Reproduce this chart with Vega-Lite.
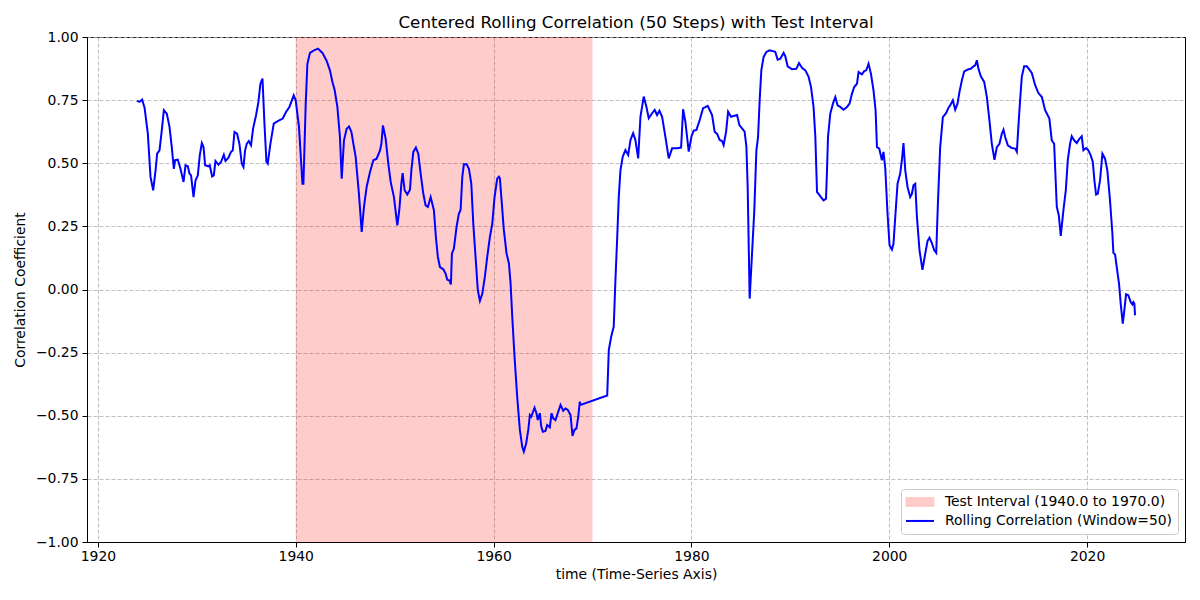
{
  "$schema": "https://vega.github.io/schema/vega-lite/v6.json",
  "width": 1098,
  "height": 505,
  "autosize": {"type": "none"},
  "padding": {"left": 87, "top": 37, "right": 15, "bottom": 58},
  "background": "white",
  "title": {"text": "Centered Rolling Correlation (50 Steps) with Test Interval", "font": "DejaVu Sans", "fontSize": 16.7, "fontWeight": "normal", "color": "black", "anchor": "middle", "offset": -2},
  "config": {
    "view": {"stroke": "black", "strokeWidth": 1},
    "axis": {"labelFont": "DejaVu Sans", "titleFont": "DejaVu Sans", "labelFontSize": 13.9, "titleFontSize": 13.9, "titleFontWeight": "normal", "labelColor": "black", "titleColor": "black", "domainColor": "black", "tickColor": "black", "tickSize": 5, "labelPadding": 4, "gridColor": "#b0b0b0", "gridDash": [4, 2], "gridWidth": 0.8, "labelFlush": false, "labelOverlap": false}
  },
  "datasets": {
    "interval": [{"start": 1940, "end": 1970, "series": "Test Interval (1940.0 to 1970.0)"}],
    "corr": [
{"year":1923.94,"corr":0.747},{"year":1924.21,"corr":0.743},{"year":1924.47,"corr":0.752},{"year":1924.72,"corr":0.720},{"year":1925.05,"corr":0.617},{"year":1925.32,"corr":0.446},{"year":1925.59,"corr":0.393},{"year":1925.83,"corr":0.472},{"year":1925.99,"corr":0.538},{"year":1926.23,"corr":0.551},{"year":1926.46,"corr":0.630},{"year":1926.67,"corr":0.710},{"year":1926.97,"corr":0.696},{"year":1927.24,"corr":0.644},{"year":1927.47,"corr":0.564},{"year":1927.68,"corr":0.478},{"year":1927.81,"corr":0.512},{"year":1928.08,"corr":0.514},{"year":1928.35,"corr":0.478},{"year":1928.66,"corr":0.426},{"year":1928.86,"corr":0.492},{"year":1929.09,"corr":0.488},{"year":1929.26,"corr":0.459},{"year":1929.42,"corr":0.452},{"year":1929.67,"corr":0.366},{"year":1929.87,"corr":0.432},{"year":1930.10,"corr":0.452},{"year":1930.30,"corr":0.531},{"year":1930.51,"corr":0.580},{"year":1930.68,"corr":0.564},{"year":1930.84,"corr":0.492},{"year":1931.18,"corr":0.488},{"year":1931.31,"corr":0.492},{"year":1931.55,"corr":0.448},{"year":1931.72,"corr":0.452},{"year":1931.89,"corr":0.509},{"year":1932.19,"corr":0.494},{"year":1932.45,"corr":0.505},{"year":1932.73,"corr":0.534},{"year":1932.90,"corr":0.509},{"year":1933.20,"corr":0.522},{"year":1933.46,"corr":0.545},{"year":1933.64,"corr":0.551},{"year":1933.81,"corr":0.624},{"year":1934.07,"corr":0.617},{"year":1934.31,"corr":0.577},{"year":1934.55,"corr":0.498},{"year":1934.72,"corr":0.485},{"year":1934.88,"corr":0.551},{"year":1935.05,"corr":0.577},{"year":1935.25,"corr":0.588},{"year":1935.48,"corr":0.571},{"year":1935.69,"corr":0.637},{"year":1935.99,"corr":0.690},{"year":1936.23,"corr":0.743},{"year":1936.43,"corr":0.815},{"year":1936.64,"corr":0.835},{"year":1936.84,"corr":0.657},{"year":1937.04,"corr":0.505},{"year":1937.17,"corr":0.498},{"year":1937.44,"corr":0.577},{"year":1937.78,"corr":0.657},{"year":1938.18,"corr":0.667},{"year":1938.69,"corr":0.677},{"year":1939.02,"corr":0.703},{"year":1939.36,"corr":0.723},{"year":1939.80,"corr":0.769},{"year":1940.00,"corr":0.749},{"year":1940.33,"corr":0.644},{"year":1940.68,"corr":0.419},{"year":1940.78,"corr":0.419},{"year":1941.01,"corr":0.736},{"year":1941.18,"corr":0.894},{"year":1941.44,"corr":0.937},{"year":1941.85,"corr":0.947},{"year":1942.25,"corr":0.954},{"year":1942.70,"corr":0.937},{"year":1943.13,"corr":0.905},{"year":1943.46,"corr":0.868},{"year":1943.71,"corr":0.822},{"year":1943.94,"corr":0.789},{"year":1944.21,"corr":0.723},{"year":1944.47,"corr":0.604},{"year":1944.65,"corr":0.439},{"year":1944.88,"corr":0.591},{"year":1945.15,"corr":0.637},{"year":1945.39,"corr":0.646},{"year":1945.63,"corr":0.624},{"year":1945.83,"corr":0.577},{"year":1946.06,"corr":0.525},{"year":1946.39,"corr":0.379},{"year":1946.67,"corr":0.228},{"year":1946.90,"corr":0.327},{"year":1947.17,"corr":0.406},{"year":1947.51,"corr":0.465},{"year":1947.85,"corr":0.512},{"year":1948.18,"corr":0.518},{"year":1948.52,"corr":0.551},{"year":1948.66,"corr":0.577},{"year":1948.82,"corr":0.650},{"year":1949.09,"corr":0.597},{"year":1949.36,"corr":0.498},{"year":1949.60,"corr":0.426},{"year":1949.93,"corr":0.366},{"year":1950.27,"corr":0.254},{"year":1950.47,"corr":0.314},{"year":1950.68,"corr":0.419},{"year":1950.81,"corr":0.461},{"year":1951.01,"corr":0.393},{"year":1951.28,"corr":0.376},{"year":1951.55,"corr":0.395},{"year":1951.69,"corr":0.472},{"year":1951.89,"corr":0.545},{"year":1952.15,"corr":0.562},{"year":1952.39,"corr":0.538},{"year":1952.63,"corr":0.459},{"year":1952.90,"corr":0.379},{"year":1953.13,"corr":0.333},{"year":1953.36,"corr":0.327},{"year":1953.64,"corr":0.366},{"year":1953.97,"corr":0.314},{"year":1954.17,"corr":0.208},{"year":1954.37,"corr":0.129},{"year":1954.58,"corr":0.089},{"year":1954.92,"corr":0.080},{"year":1955.15,"corr":0.063},{"year":1955.32,"corr":0.039},{"year":1955.53,"corr":0.036},{"year":1955.69,"corr":0.020},{"year":1955.79,"corr":0.142},{"year":1955.99,"corr":0.162},{"year":1956.26,"corr":0.248},{"year":1956.49,"corr":0.300},{"year":1956.67,"corr":0.316},{"year":1956.84,"corr":0.446},{"year":1957.00,"corr":0.496},{"year":1957.27,"corr":0.496},{"year":1957.51,"corr":0.478},{"year":1957.75,"corr":0.419},{"year":1957.95,"corr":0.261},{"year":1958.18,"corr":0.129},{"year":1958.41,"corr":-0.003},{"year":1958.62,"corr":-0.045},{"year":1958.86,"corr":-0.017},{"year":1959.12,"corr":0.050},{"year":1959.36,"corr":0.129},{"year":1959.63,"corr":0.208},{"year":1959.87,"corr":0.261},{"year":1960.10,"corr":0.366},{"year":1960.37,"corr":0.439},{"year":1960.54,"corr":0.447},{"year":1960.64,"corr":0.440},{"year":1960.81,"corr":0.354},{"year":1961.04,"corr":0.236},{"year":1961.31,"corr":0.143},{"year":1961.55,"corr":0.104},{"year":1961.72,"corr":0.025},{"year":1961.89,"corr":-0.108},{"year":1962.12,"corr":-0.266},{"year":1962.39,"corr":-0.425},{"year":1962.66,"corr":-0.556},{"year":1962.90,"corr":-0.623},{"year":1963.06,"corr":-0.642},{"year":1963.30,"corr":-0.609},{"year":1963.51,"corr":-0.556},{"year":1963.67,"corr":-0.497},{"year":1963.81,"corr":-0.504},{"year":1963.94,"corr":-0.490},{"year":1964.14,"corr":-0.468},{"year":1964.34,"corr":-0.490},{"year":1964.47,"corr":-0.517},{"year":1964.68,"corr":-0.490},{"year":1964.82,"corr":-0.543},{"year":1964.98,"corr":-0.563},{"year":1965.25,"corr":-0.560},{"year":1965.42,"corr":-0.537},{"year":1965.69,"corr":-0.546},{"year":1965.86,"corr":-0.490},{"year":1966.03,"corr":-0.510},{"year":1966.26,"corr":-0.517},{"year":1966.49,"corr":-0.490},{"year":1966.77,"corr":-0.457},{"year":1967.04,"corr":-0.480},{"year":1967.27,"corr":-0.471},{"year":1967.51,"corr":-0.477},{"year":1967.78,"corr":-0.497},{"year":1967.98,"corr":-0.580},{"year":1968.18,"corr":-0.556},{"year":1968.38,"corr":-0.550},{"year":1968.56,"corr":-0.504},{"year":1968.72,"corr":-0.444},{"year":1968.79,"corr":-0.457},{"year":1971.49,"corr":-0.420},{"year":1971.65,"corr":-0.240},{"year":1971.89,"corr":-0.187},{"year":1972.15,"corr":-0.147},{"year":1972.32,"corr":0.038},{"year":1972.49,"corr":0.196},{"year":1972.66,"corr":0.368},{"year":1972.83,"corr":0.473},{"year":1973.06,"corr":0.526},{"year":1973.33,"corr":0.552},{"year":1973.61,"corr":0.533},{"year":1973.84,"corr":0.592},{"year":1974.11,"corr":0.619},{"year":1974.34,"corr":0.592},{"year":1974.62,"corr":0.519},{"year":1974.85,"corr":0.684},{"year":1975.18,"corr":0.764},{"year":1975.45,"corr":0.724},{"year":1975.69,"corr":0.678},{"year":1976.03,"corr":0.698},{"year":1976.29,"corr":0.711},{"year":1976.53,"corr":0.691},{"year":1976.77,"corr":0.708},{"year":1977.04,"corr":0.684},{"year":1977.37,"corr":0.605},{"year":1977.71,"corr":0.519},{"year":1978.05,"corr":0.559},{"year":1978.56,"corr":0.559},{"year":1978.96,"corr":0.562},{"year":1979.16,"corr":0.714},{"year":1979.39,"corr":0.665},{"year":1979.73,"corr":0.546},{"year":1980.00,"corr":0.605},{"year":1980.23,"corr":0.629},{"year":1980.51,"corr":0.632},{"year":1980.84,"corr":0.671},{"year":1981.18,"corr":0.718},{"year":1981.41,"corr":0.722},{"year":1981.65,"corr":0.727},{"year":1981.85,"corr":0.711},{"year":1982.09,"corr":0.691},{"year":1982.35,"corr":0.625},{"year":1982.60,"corr":0.616},{"year":1982.86,"corr":0.592},{"year":1983.10,"corr":0.588},{"year":1983.26,"corr":0.572},{"year":1983.51,"corr":0.625},{"year":1983.71,"corr":0.704},{"year":1984.01,"corr":0.684},{"year":1984.27,"corr":0.687},{"year":1984.62,"corr":0.691},{"year":1984.85,"corr":0.651},{"year":1985.12,"corr":0.638},{"year":1985.38,"corr":0.625},{"year":1985.56,"corr":0.566},{"year":1985.69,"corr":0.406},{"year":1985.89,"corr":-0.036},{"year":1986.13,"corr":0.142},{"year":1986.36,"corr":0.314},{"year":1986.57,"corr":0.551},{"year":1986.74,"corr":0.604},{"year":1986.90,"corr":0.749},{"year":1987.07,"corr":0.868},{"year":1987.30,"corr":0.921},{"year":1987.58,"corr":0.941},{"year":1987.91,"corr":0.947},{"year":1988.48,"corr":0.941},{"year":1988.72,"corr":0.910},{"year":1988.99,"corr":0.914},{"year":1989.32,"corr":0.937},{"year":1989.49,"corr":0.924},{"year":1989.73,"corr":0.884},{"year":1990.17,"corr":0.872},{"year":1990.61,"corr":0.874},{"year":1990.88,"corr":0.897},{"year":1991.18,"corr":0.878},{"year":1991.52,"corr":0.868},{"year":1991.85,"corr":0.842},{"year":1992.09,"corr":0.802},{"year":1992.35,"corr":0.723},{"year":1992.53,"corr":0.604},{"year":1992.70,"corr":0.386},{"year":1992.86,"corr":0.379},{"year":1993.10,"corr":0.366},{"year":1993.36,"corr":0.353},{"year":1993.61,"corr":0.360},{"year":1993.71,"corr":0.472},{"year":1993.81,"corr":0.604},{"year":1994.04,"corr":0.696},{"year":1994.31,"corr":0.736},{"year":1994.55,"corr":0.762},{"year":1994.78,"corr":0.729},{"year":1995.05,"corr":0.723},{"year":1995.38,"corr":0.712},{"year":1995.73,"corr":0.723},{"year":1995.99,"corr":0.736},{"year":1996.23,"corr":0.775},{"year":1996.46,"corr":0.802},{"year":1996.74,"corr":0.815},{"year":1996.90,"corr":0.861},{"year":1997.24,"corr":0.852},{"year":1997.47,"corr":0.865},{"year":1997.68,"corr":0.868},{"year":1997.91,"corr":0.894},{"year":1998.15,"corr":0.855},{"year":1998.41,"corr":0.789},{"year":1998.62,"corr":0.710},{"year":1998.76,"corr":0.564},{"year":1998.99,"corr":0.558},{"year":1999.26,"corr":0.512},{"year":1999.42,"corr":0.545},{"year":1999.60,"corr":0.480},{"year":1999.83,"corr":0.300},{"year":2000.03,"corr":0.175},{"year":2000.27,"corr":0.158},{"year":2000.43,"corr":0.181},{"year":2000.61,"corr":0.287},{"year":2000.84,"corr":0.419},{"year":2001.11,"corr":0.459},{"year":2001.28,"corr":0.512},{"year":2001.44,"corr":0.580},{"year":2001.62,"corr":0.472},{"year":2001.85,"corr":0.406},{"year":2002.12,"corr":0.366},{"year":2002.29,"corr":0.379},{"year":2002.45,"corr":0.413},{"year":2002.63,"corr":0.419},{"year":2002.80,"corr":0.287},{"year":2003.06,"corr":0.155},{"year":2003.36,"corr":0.078},{"year":2003.64,"corr":0.142},{"year":2003.87,"corr":0.192},{"year":2004.07,"corr":0.205},{"year":2004.31,"corr":0.184},{"year":2004.55,"corr":0.155},{"year":2004.75,"corr":0.145},{"year":2004.92,"corr":0.340},{"year":2005.15,"corr":0.564},{"year":2005.42,"corr":0.683},{"year":2005.76,"corr":0.699},{"year":2005.99,"corr":0.720},{"year":2006.16,"corr":0.729},{"year":2006.43,"corr":0.749},{"year":2006.67,"corr":0.712},{"year":2006.90,"corr":0.736},{"year":2007.10,"corr":0.782},{"year":2007.34,"corr":0.828},{"year":2007.58,"corr":0.864},{"year":2008.01,"corr":0.872},{"year":2008.25,"corr":0.874},{"year":2008.52,"corr":0.884},{"year":2008.69,"corr":0.888},{"year":2008.86,"corr":0.908},{"year":2009.02,"corr":0.874},{"year":2009.26,"corr":0.844},{"year":2009.60,"corr":0.822},{"year":2009.87,"corr":0.762},{"year":2010.13,"corr":0.670},{"year":2010.37,"corr":0.577},{"year":2010.64,"corr":0.514},{"year":2010.88,"corr":0.564},{"year":2011.14,"corr":0.577},{"year":2011.38,"corr":0.617},{"year":2011.55,"corr":0.633},{"year":2011.72,"corr":0.604},{"year":2011.99,"corr":0.571},{"year":2012.39,"corr":0.560},{"year":2012.73,"corr":0.558},{"year":2012.90,"corr":0.545},{"year":2013.16,"corr":0.710},{"year":2013.40,"corr":0.842},{"year":2013.64,"corr":0.884},{"year":2013.91,"corr":0.884},{"year":2014.17,"corr":0.871},{"year":2014.41,"corr":0.858},{"year":2014.75,"corr":0.809},{"year":2015.08,"corr":0.778},{"year":2015.43,"corr":0.762},{"year":2015.76,"corr":0.710},{"year":2016.19,"corr":0.677},{"year":2016.43,"corr":0.591},{"year":2016.67,"corr":0.577},{"year":2016.94,"corr":0.327},{"year":2017.14,"corr":0.294},{"year":2017.34,"corr":0.212},{"year":2017.61,"corr":0.314},{"year":2017.85,"corr":0.393},{"year":2018.05,"corr":0.512},{"year":2018.28,"corr":0.577},{"year":2018.45,"corr":0.607},{"year":2018.69,"corr":0.591},{"year":2018.96,"corr":0.580},{"year":2019.22,"corr":0.597},{"year":2019.46,"corr":0.607},{"year":2019.63,"corr":0.551},{"year":2019.90,"corr":0.560},{"year":2020.13,"corr":0.551},{"year":2020.37,"corr":0.531},{"year":2020.58,"corr":0.505},{"year":2020.74,"corr":0.432},{"year":2020.91,"corr":0.376},{"year":2021.08,"corr":0.379},{"year":2021.31,"corr":0.432},{"year":2021.55,"corr":0.538},{"year":2021.82,"corr":0.518},{"year":2022.05,"corr":0.472},{"year":2022.32,"corr":0.353},{"year":2022.56,"corr":0.221},{"year":2022.66,"corr":0.145},{"year":2022.83,"corr":0.139},{"year":2023.00,"corr":0.089},{"year":2023.23,"corr":0.023},{"year":2023.40,"corr":-0.056},{"year":2023.61,"corr":-0.135},{"year":2023.77,"corr":-0.082},{"year":2023.94,"corr":-0.019},{"year":2024.17,"corr":-0.023},{"year":2024.41,"corr":-0.050},{"year":2024.58,"corr":-0.059},{"year":2024.68,"corr":-0.050},{"year":2024.78,"corr":-0.056},{"year":2024.85,"corr":-0.102}
    ]
  },
  "layer": [
    {
      "data": {"name": "interval"},
      "mark": {"type": "rect", "opacity": 0.2},
      "encoding": {
        "x": {"field": "start", "type": "quantitative", "scale": {"domain": [1918.9, 2029.9], "nice": false, "zero": false},
              "axis": {"title": "time (Time-Series Axis)", "values": [1920, 1940, 1960, 1980, 2000, 2020], "format": "d", "grid": true, "labelPadding": 2, "titlePadding": 5}},
        "x2": {"field": "end"},
        "color": {"field": "series", "type": "nominal",
          "scale": {"domain": ["Test Interval (1940.0 to 1970.0)", "Rolling Correlation (Window=50)"], "range": ["#ff0000", "#0000ff"]},
          "legend": {
            "title": null, "orient": "none", "legendX": 814, "legendY": 452, "direction": "vertical",
            "fillColor": "white", "strokeColor": "#cccccc", "cornerRadius": 3, "padding": 6,
            "labelFont": "DejaVu Sans", "labelFontSize": 13.9, "labelColor": "black", "labelOffset": 18, "labelLimit": 400,
            "symbolSize": 196, "symbolOffset": 6, "rowPadding": 4,
            "symbolType": {"expr": "datum.value === 'Rolling Correlation (Window=50)' ? 'M-2,0L2,0' : 'M-2,-0.64L2,-0.64L2,0.64L-2,0.64Z'"},
            "symbolOpacity": {"expr": "datum.value === 'Rolling Correlation (Window=50)' ? 1 : 0.2"},
            "symbolStrokeWidth": {"expr": "datum.value === 'Rolling Correlation (Window=50)' ? 2 : 1"}
          }
        }
      }
    },
    {
      "mark": {"type": "rule", "color": "#808080", "strokeDash": [8, 3.5], "strokeWidth": 1.6},
      "encoding": {"y": {"datum": 0, "type": "quantitative"}}
    },
    {
      "data": {"name": "corr"},
      "mark": {"type": "line", "strokeWidth": 2, "interpolate": "linear"},
      "encoding": {
        "x": {"field": "year", "type": "quantitative"},
        "y": {"field": "corr", "type": "quantitative", "scale": {"domain": [-1, 1], "nice": false, "zero": false},
              "axis": {"title": "Correlation Coefficient", "values": [-1, -0.75, -0.5, -0.25, 0, 0.25, 0.5, 0.75, 1], "format": ".2f", "grid": true, "titlePadding": 8}},
        "color": {"datum": "Rolling Correlation (Window=50)"}
      }
    }
  ]
}
